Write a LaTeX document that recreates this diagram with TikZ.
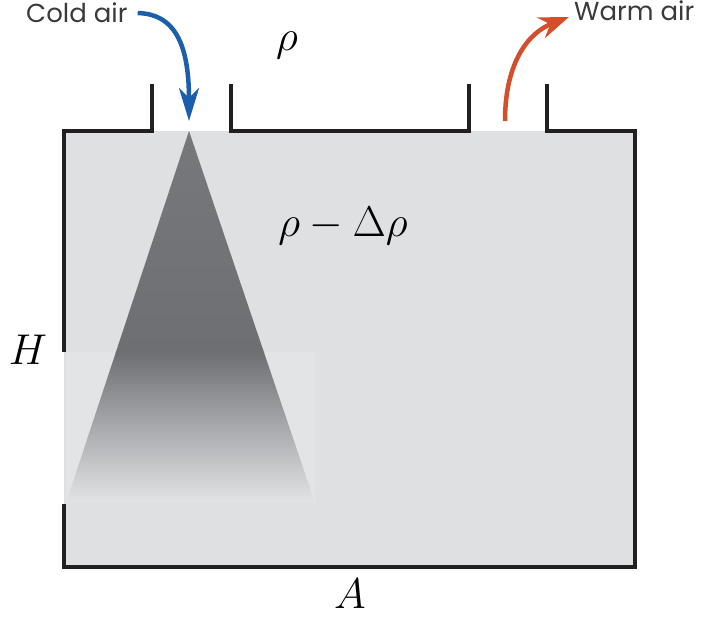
\documentclass[tikz,border=0pt]{standalone}
\usepackage{fontspec}
\newfontfamily\labelfont{Poppins}
\usepackage{xcolor}
\usepackage{graphicx}
\usetikzlibrary{arrows.meta}

\definecolor{roomgray}{HTML}{DFE0E2}
\definecolor{patchgray}{HTML}{E3E4E6}
\definecolor{plumetop}{HTML}{77787B}
\definecolor{plumemid}{HTML}{6E6F73}
\definecolor{plumelow}{HTML}{E3E4E6}
\definecolor{wallblack}{HTML}{231F20}
\definecolor{coldblue}{HTML}{1B5EAB}
\definecolor{warmred}{HTML}{D44E2A}
\definecolor{labeltext}{HTML}{3A3A3A}

\newcommand{\bigmath}[1]{\scalebox{1.73}{$#1$}}

\tikzset{
    wall/.style={line width=3.5pt, wallblack},
    airlabel/.style={inner sep=0pt, text=labeltext, font=\labelfont\fontsize{26}{30}\selectfont},
    mathlabel/.style={inner sep=0pt, font=\fontsize{24.88}{30}\selectfont},
    coldarrow/.style={line width=4.5pt, coldblue, -{Stealth[length=33pt, width=20pt, inset=10pt]}},
    warmarrow/.style={line width=4.5pt, warmred, -{Stealth[length=30pt, width=22pt, inset=10pt]}}
}

\begin{document}
\begin{tikzpicture}[x=1pt, y=-1pt]
    \useasboundingbox (0,0) rectangle (707,619);

    % Room and the lighter patch
    \fill[roomgray] (64,131) rectangle (635,567);
    \fill[patchgray] (66,352) rectangle (315,503);

    % Cold plume
    \begin{scope}
        \clip (189,131) -- (66,503) -- (315,503) -- cycle;
        \shade[top color=plumetop, bottom color=plumemid] (60,131) rectangle (320,352);
        \shade[top color=plumemid, bottom color=plumelow] (60,352) rectangle (320,503);
    \end{scope}

    % Walls and chimneys
    \draw[wall] (152,84) -- (152,131) -- (64,131) -- (64,352);
    \draw[wall] (64,504) -- (64,567) -- (635,567) -- (635,131) -- (547,131) -- (547,84);
    \draw[wall] (231,84) -- (231,131) -- (469,131) -- (469,84);

    % Labels
    \node[airlabel, anchor=west] (cold) at (26,13) {Cold air};
    \node[airlabel, anchor=west] (warm) at (574,11) {Warm air};
    \node[mathlabel] (rho) at (287,45) {\bigmath{\rho}};
    \node[mathlabel] (rhodelta) at (343,226) {\bigmath{\rho - \Delta\rho}};
    \node[mathlabel] (height) at (28,350) {\bigmath{H}};
    \node[mathlabel] (area) at (350,594) {\bigmath{A}};

    % Air flow
    \coordinate (coldin) at (189,121);
    \coordinate (warmout) at (505,121);
    \draw[coldarrow] ([xshift=10pt]cold.east) .. controls (178,14) and (189,50) .. (coldin);
    \draw[warmarrow] (warmout) .. controls (505,60) and (530,32) .. ([shift={(-5,6)}]warm.west);
\end{tikzpicture}
\end{document}
